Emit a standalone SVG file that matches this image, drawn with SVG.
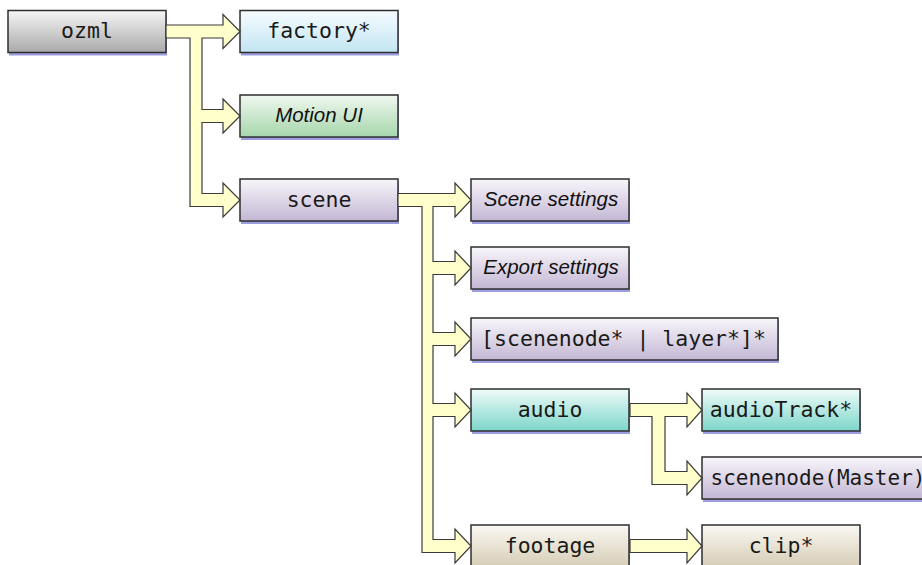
<svg xmlns="http://www.w3.org/2000/svg" width="922" height="565" viewBox="0 0 922 565">
<defs>
<linearGradient id="gGray" x1="0" y1="0" x2="0" y2="1"><stop offset="0" stop-color="#f6f6f6"/><stop offset="1" stop-color="#a9a9a9"/></linearGradient>
<linearGradient id="gBlue" x1="0" y1="0" x2="0" y2="1"><stop offset="0" stop-color="#f6fcfe"/><stop offset="1" stop-color="#c2e5f3"/></linearGradient>
<linearGradient id="gGreen" x1="0" y1="0" x2="0" y2="1"><stop offset="0" stop-color="#f0f8f0"/><stop offset="1" stop-color="#a6d6ab"/></linearGradient>
<linearGradient id="gPurple" x1="0" y1="0" x2="0" y2="1"><stop offset="0" stop-color="#f8f6fa"/><stop offset="1" stop-color="#c3b7d4"/></linearGradient>
<linearGradient id="gTeal" x1="0" y1="0" x2="0" y2="1"><stop offset="0" stop-color="#f0fbf9"/><stop offset="1" stop-color="#7cd6ca"/></linearGradient>
<linearGradient id="gTan" x1="0" y1="0" x2="0" y2="1"><stop offset="0" stop-color="#faf8f2"/><stop offset="1" stop-color="#d6cdb6"/></linearGradient>
</defs>
<style>
.box{stroke:#2e2e2e;stroke-width:1.5}
.sh{fill:#9c9ce0}
.mono{font-family:"DejaVu Sans Mono",monospace;font-size:21.5px;fill:#1a1a1a;text-anchor:middle}
.ital{font-family:"Liberation Sans",Arial,sans-serif;font-style:italic;font-size:20.5px;fill:#111;text-anchor:middle}
.conn{fill:#ffffcc;stroke:#3a3a3a;stroke-width:1.2;stroke-linejoin:miter}
</style>
<rect width="922" height="565" fill="#ffffff"/>

<g id="nodes">
<g id="ozml"><rect class="sh" x="9" y="13.5" width="158" height="42"/><rect class="box" x="8" y="10.5" width="158" height="42" fill="url(#gGray)"/><text class="mono" x="87" y="38">ozml</text></g>
<g id="factory"><rect class="sh" x="241" y="13.5" width="158" height="42"/><rect class="box" x="240" y="10.5" width="158" height="42" fill="url(#gBlue)"/><text class="mono" x="319" y="38">factory*</text></g>
<g id="motionui"><rect class="sh" x="241" y="98" width="158" height="42"/><rect class="box" x="240" y="95" width="158" height="42" fill="url(#gGreen)"/><text class="ital" x="319" y="121.5">Motion UI</text></g>
<g id="scene"><rect class="sh" x="241" y="182" width="158" height="42"/><rect class="box" x="240" y="179" width="158" height="42" fill="url(#gPurple)"/><text class="mono" x="319" y="206.5">scene</text></g>
<g id="scenesettings"><rect class="sh" x="472" y="182" width="158" height="42"/><rect class="box" x="471" y="179" width="158" height="42" fill="url(#gPurple)"/><text class="ital" x="551" y="205.5">Scene settings</text></g>
<g id="exportsettings"><rect class="sh" x="472" y="250" width="158" height="42"/><rect class="box" x="471" y="247" width="158" height="42" fill="url(#gPurple)"/><text class="ital" x="551" y="273.5">Export settings</text></g>
<g id="scenenodelayer"><rect class="sh" x="472" y="321" width="307" height="42"/><rect class="box" x="471" y="318" width="307" height="42" fill="url(#gPurple)"/><text class="mono" x="623.5" y="345.5">[scenenode* | layer*]*</text></g>
<g id="audio"><rect class="sh" x="472" y="392" width="158" height="42"/><rect class="box" x="471" y="389" width="158" height="42" fill="url(#gTeal)"/><text class="mono" x="550" y="416.5">audio</text></g>
<g id="audiotrack"><rect class="sh" x="703" y="392" width="158" height="42"/><rect class="box" x="702" y="389" width="158" height="42" fill="url(#gTeal)"/><text class="mono" x="781" y="416.5">audioTrack*</text></g>
<g id="scenenodemaster"><rect class="sh" x="703" y="460" width="240" height="42"/><rect class="box" x="702" y="457" width="240" height="42" fill="url(#gPurple)"/><text class="mono" x="710.5" y="484.5" style="text-anchor:start;font-size:21px">scenenode(Master)</text></g>
<g id="footage"><rect class="sh" x="472" y="528" width="158" height="42"/><rect class="box" x="471" y="525" width="158" height="42" fill="url(#gTan)"/><text class="mono" x="550" y="552.5">footage</text></g>
<g id="clip"><rect class="sh" x="703" y="528" width="158" height="42"/><rect class="box" x="702" y="525" width="158" height="42" fill="url(#gTan)"/><text class="mono" x="781" y="552.5">clip*</text></g>
</g>

<g id="connectors">
<polygon class="conn" points="166,25 223,25 223,14.5 240,31.5 223,48.5 223,38 202,38 202,109.5 223,109.5 223,99 240,116 223,133 223,122.5 202,122.5 202,193.5 223,193.5 223,183 240,200 223,217 223,206.5 190,206.5 190,38 166,38"/>
<polygon class="conn" points="398,193.5 455,193.5 455,183 471,200 455,217 455,206.5 433,206.5 433,261.5 455,261.5 455,251 471,268 455,285 455,274.5 433,274.5 433,332.5 455,332.5 455,322 471,339 455,356 455,345.5 433,345.5 433,403.5 455,403.5 455,393 471,410 455,427 455,416.5 433,416.5 433,539.5 455,539.5 455,529 471,546 455,563 455,552.5 422,552.5 422,206.5 398,206.5"/>
<polygon class="conn" points="630,403.5 687,403.5 687,393 702,410 687,427 687,416.5 665,416.5 665,471.5 687,471.5 687,461 702,478 687,495 687,484.5 652,484.5 652,416.5 630,416.5"/>
<polygon class="conn" points="630,539.5 687,539.5 687,529 702,546 687,563 687,552.5 630,552.5"/>
</g>
</svg>
